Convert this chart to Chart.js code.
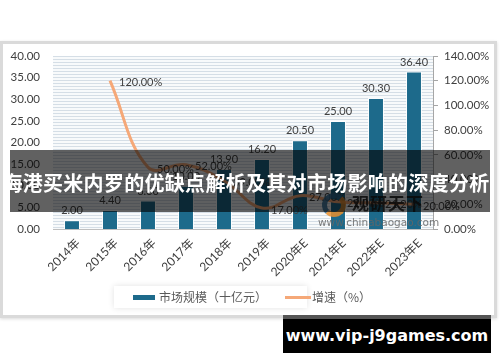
<!DOCTYPE html>
<html>
<head>
<meta charset="utf-8">
<script src="https://cdn.jsdelivr.net/npm/chart.js@4"></script>
<style>
  html, body { margin: 0; padding: 0; background: #fff; }
  #wrap { position: relative; width: 500px; height: 362px; overflow: hidden; background: #fff; }
  #frame { position: absolute; left: 0; top: 41px; width: 497px; height: 277px; box-sizing: border-box;
           border: 3px solid #dadada; box-shadow: 0 1px 3px rgba(0,0,0,0.15); background: #fff; }
  #legendBox { position: absolute; left: 114px; top: 286px; width: 193px; height: 22px; background: #fff;
               box-shadow: 0 0 6px rgba(0,0,0,0.12); }
  canvas { position: absolute; left: 0; top: 0; }
  .leg { position: absolute; font: 12px "Noto Sans CJK SC", sans-serif; color: #595959; line-height: 14px; }
  .sw { position: absolute; }
  #logoText { position: absolute; left: 352px; top: 193px; font: bold 17px "Noto Sans CJK SC", sans-serif; color: #1a1a1a; letter-spacing: 1px; opacity: 0.85; line-height: 20px; }
  #logoUrl { position: absolute; left: 318px; top: 216px; font: 10.5px "DejaVu Sans", sans-serif; color: #666; line-height: 12px; opacity: 0.85; }
  #logoIcon { position: absolute; left: 322px; top: 193px; width: 14px; height: 14px; border-radius: 50%;
              border: 5px solid #e8902e; border-top-color: #2f6f98; border-left-color: #2f6f98; opacity: 0.85; }
  #banner { position: absolute; left: 10px; top: 150px; width: 480px; height: 62px; background: rgba(0,0,0,0.62); }
  #bannerText { position: absolute; left: 0; width: 492px; top: 170px; text-align: center; color: #fff;
                font: bold 20px "Noto Sans CJK SC", sans-serif; letter-spacing: 0.3px; line-height: 26px; white-space: nowrap; }
  #wm { position: absolute; left: 283px; top: 315px; width: 208px; height: 34px; background: #000;
        border-top: 4px solid #555; color: #fff; font: bold 16px "DejaVu Sans", sans-serif; text-align: center; line-height: 34px; }
</style>
</head>
<body>
<div id="wrap">
  <div id="frame"></div>
  <div id="legendBox"></div>
  <canvas id="c" width="500" height="362"></canvas>
  <div id="legend"></div>
  <div id="logoIcon"></div>
  <div id="logoText">观研天下</div>
  <div id="logoUrl">www.chinabaogao.com</div>
  <div id="banner"></div>
  <div id="bannerText">海港买米内罗的优缺点解析及其对市场影响的深度分析</div>
  <div id="wm">www.vip-j9games.com</div>
</div>
<script>
// ---- data ----
const categories = ["2014年","2015年","2016年","2017年","2018年","2019年","2020年E","2021年E","2022年E","2023年E"];
const marketSize = [2.00, 4.40, 6.60, 10.00, 13.90, 16.20, 20.50, 25.00, 30.30, 36.40];
const growthRate = [null, 120.00, 50.00, 52.00, 39.00, 17.00, 27.00, 22.00, 21.20, 20.00];
const seriesNames = ["市场规模（十亿元）", "增速（%）"];
const leftTicks = [0, 5, 10, 15, 20, 25, 30, 35, 40];
const rightTicks = [0, 20, 40, 60, 80, 100, 120, 140];

const BAR_COLOR = "#1d6a8b";
const LINE_COLOR = "#f5a878";
const FONT = "Lato, 'Noto Sans CJK SC', sans-serif";

// legend (HTML, built from series names)
(function(){
  const lg = document.getElementById('legend');
  const s1 = document.createElement('div'); s1.className='sw';
  Object.assign(s1.style,{left:'133px',top:'295px',width:'22px',height:'5px',background:BAR_COLOR});
  const t1 = document.createElement('div'); t1.className='leg'; t1.textContent=seriesNames[0];
  Object.assign(t1.style,{left:'159px',top:'290px'});
  const s2 = document.createElement('div'); s2.className='sw';
  Object.assign(s2.style,{left:'285px',top:'296px',width:'26px',height:'3px',background:LINE_COLOR});
  const t2 = document.createElement('div'); t2.className='leg'; t2.textContent=seriesNames[1];
  Object.assign(t2.style,{left:'312px',top:'290px'});
  lg.append(s1,t1,s2,t2);
})();

// stripe pattern for plot background
function makePattern(ctx){
  const p = document.createElement('canvas'); p.width = 4; p.height = 3;
  const g = p.getContext('2d');
  g.fillStyle = '#f8fafb'; g.fillRect(0,0,4,3);
  g.fillStyle = '#d5dee6'; g.fillRect(0,0,4,1);
  return ctx.createPattern(p,'repeat');
}

const bgPlugin = {
  id: 'bgStripes',
  beforeDatasetsDraw(chart){
    const {ctx, chartArea:a} = chart;
    ctx.save();
    ctx.fillStyle = makePattern(ctx);
    ctx.translate(0, a.top);
    ctx.fillRect(a.left, 0, a.right - a.left, a.bottom - a.top);
    ctx.restore();
  }
};

const labelPlugin = {
  id: 'valueLabels',
  afterDatasetsDraw(chart){
    const ctx = chart.ctx;
    ctx.save();
    ctx.font = "11px " + FONT;
    ctx.fillStyle = '#404040';
    const barMeta = chart.getDatasetMeta(1);
    barMeta.data.forEach((el, i) => {
      ctx.textAlign = 'center'; ctx.textBaseline = 'bottom';
      ctx.fillText(marketSize[i].toFixed(2), el.x, el.y - 4);
    });
    const lineMeta = chart.getDatasetMeta(0);
    lineMeta.data.forEach((el, i) => {
      if (growthRate[i] == null) return;
      ctx.textAlign = 'left'; ctx.textBaseline = 'middle';
      ctx.fillText(growthRate[i].toFixed(2) + '%', el.x + 9, el.y + 2);
    });
    ctx.restore();
  }
};

const ctx = document.getElementById('c').getContext('2d');
new Chart(ctx, {
  data: {
    labels: categories,
    datasets: [
      { type: 'line', label: seriesNames[1], data: growthRate, yAxisID: 'y1', order: 0,
        borderColor: LINE_COLOR, borderWidth: 3, tension: 0.4, pointRadius: 0, fill: false, spanGaps: true },
      { type: 'bar', label: seriesNames[0], data: marketSize, yAxisID: 'y', order: 1,
        backgroundColor: BAR_COLOR, borderColor: 'rgba(255,255,255,0.85)', borderWidth: 1,
        barPercentage: 0.42, categoryPercentage: 1.0 }
    ]
  },
  options: {
    responsive: false,
    animation: false,
    events: [],
    layout: { padding: { left: 0, right: 0, top: 56, bottom: 63 } },
    plugins: { legend: { display: false }, tooltip: { enabled: false } },
    scales: {
      x: {
        grid: { display: false, drawTicks: false },
        border: { display: true, color: '#bfbfbf', width: 1 },
        ticks: { minRotation: 45, maxRotation: 45, padding: 7, labelOffset: 6, color: '#404040', font: { size: 12, family: FONT } },
        afterFit(s){ s.height = 70; }
      },
      y: {
        position: 'left', min: 0, max: 40,
        afterBuildTicks(s){ s.ticks = leftTicks.map(v => ({value: v})); },
        grid: { display: false, drawTicks: false },
        border: { display: false },
        ticks: { padding: 13, color: '#404040', font: { size: 11.5, family: FONT }, callback: v => Number(v).toFixed(2) },
        afterFit(s){ s.width = 53; }
      },
      y1: {
        position: 'right', min: 0, max: 140,
        afterBuildTicks(s){ s.ticks = rightTicks.map(v => ({value: v})); },
        grid: { drawOnChartArea: false, drawTicks: true, tickLength: 5, color: '#a6a6a6' },
        border: { display: true, color: '#a6a6a6' },
        ticks: { padding: 6, color: '#404040', font: { size: 11.5, family: FONT }, callback: v => Number(v).toFixed(2) + '%' },
        afterFit(s){ s.width = 67; }
      }
    }
  },
  plugins: [bgPlugin, labelPlugin]
});
</script>
</body>
</html>
